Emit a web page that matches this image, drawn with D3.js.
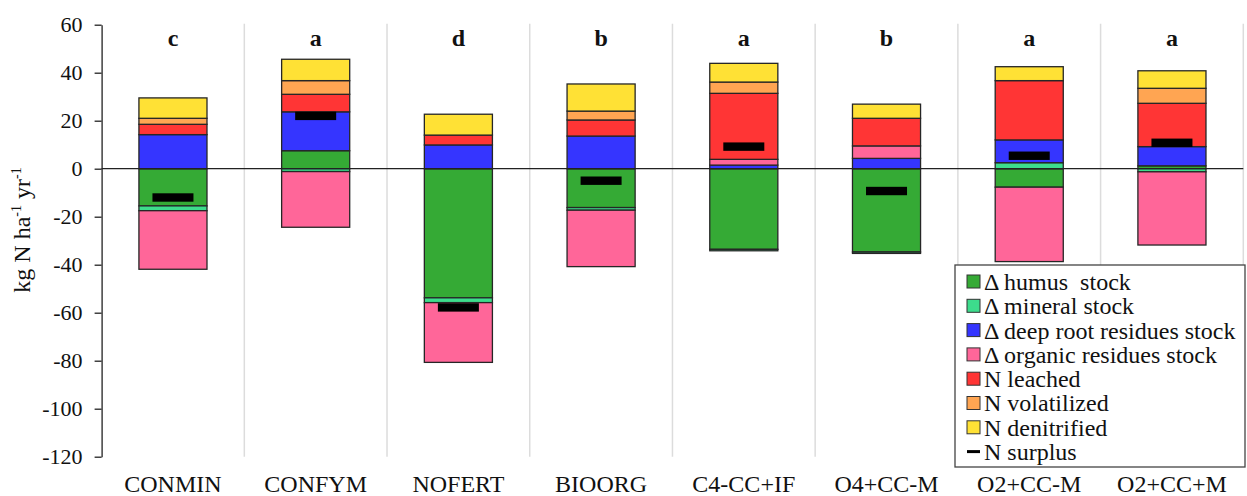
<!DOCTYPE html>
<html>
<head>
<meta charset="utf-8">
<script src="https://cdn.jsdelivr.net/npm/d3@7"></script>
<style>
  html, body { margin: 0; padding: 0; background: #fff; }
  svg { display: block; }
  svg text { font-family: "Liberation Serif", "Times New Roman", "DejaVu Serif", serif !important; }
</style>
</head>
<body>
<svg id="chart" width="1247" height="496"></svg>
<script>
// Nitrogen balance components per cropping system (kg N ha-1 yr-1)
const categories = ["CONMIN", "CONFYM", "NOFERT", "BIOORG", "C4-CC+IF", "O4+CC-M", "O2+CC-M", "O2+CC+M"];
const letters = ["c", "a", "d", "b", "a", "b", "a", "a"];

const humus       = [-15.5,  7.5, -53.8, -16.2, -33.6, -34.7,  -7.7,   1.2];
const mineral     = [ -2.0, -1.2,  -2.0,  -1.1,  -0.6,  -0.6,   2.5,  -1.3];
const deepRoot    = [ 14.2, 16.2,   9.9,  13.6,   1.5,   4.3,   9.5,   8.0];
const organic     = [-24.4, -23.2, -24.9, -23.5,  2.4,   5.2, -31.0, -30.5];
const leached     = [  4.3,  7.3,   4.1,   6.7,  27.5,  11.5,  24.7,  18.05];
const volatilized = [  2.5,  5.7,   0.0,   3.7,   4.7,   0.0,   0.0,   6.25];
const denitrified = [  8.5,  8.9,   8.7,  11.3,   7.8,   5.9,   5.8,   7.3];
const surplus     = [-12.0, 22.0, -57.8,  -5.0,   9.2,  -9.3,   5.4,  10.8];

const yTicks = [60, 40, 20, 0, -20, -40, -60, -80, -100, -120];

const series = [
  { key: "humus",       label: "\u0394 humus  stock",               color: "#35AA35", values: humus },
  { key: "mineral",     label: "\u0394 mineral stock",              color: "#3DDC8C", values: mineral },
  { key: "deepRoot",    label: "\u0394 deep root residues stock",   color: "#3535FF", values: deepRoot },
  { key: "organic",     label: "\u0394 organic residues stock",     color: "#FF6699", values: organic },
  { key: "leached",     label: "N leached",                         color: "#FF3535", values: leached },
  { key: "volatilized", label: "N volatilized",                     color: "#FFA552", values: volatilized },
  { key: "denitrified", label: "N denitrified",                     color: "#FFE135", values: denitrified }
];

// Build row table for the stack layout
const rows = categories.map((c, i) => {
  const r = { category: c };
  series.forEach(s => { r[s.key] = s.values[i]; });
  return r;
});

const SERIF = "Liberation Serif, Times New Roman, DejaVu Serif, serif";
const svg = d3.select("#chart").attr("font-family", SERIF);
const plotLeft = 101.6, plotRight = 1243.3, plotTop = 24.7, plotBottom = 456.7;

const x = d3.scaleBand()
  .domain(categories)
  .range([plotLeft, plotRight])
  .paddingInner(0.523)
  .paddingOuter(0.2615);

const y = d3.scaleLinear().domain([-120, 60]).range([plotBottom, plotTop]);

// Vertical separators between categories
const step = x.step();
const gridX = d3.range(1, categories.length + 1).map(i => plotLeft + i * step);
svg.append("g").selectAll("line").data(gridX).join("line")
  .attr("x1", d => d).attr("x2", d => d)
  .attr("y1", plotTop - 1).attr("y2", plotBottom)
  .attr("stroke", "#dcdcdc").attr("stroke-width", 1.5);

// Y axis
const yAxis = svg.append("g")
  .attr("transform", `translate(${plotLeft},0)`)
  .call(d3.axisLeft(y).tickValues(yTicks).tickSize(7).tickSizeOuter(0).tickPadding(12)
    .tickFormat(d => d));
yAxis.attr("font-family", SERIF).attr("font-size", 22);
yAxis.select(".domain").attr("stroke", "#222").attr("stroke-width", 1.3);
yAxis.selectAll(".tick line").attr("stroke", "#222").attr("stroke-width", 1.3);
yAxis.selectAll(".tick text").attr("fill", "#111");

// Stacked bars (positive values upward, negative values downward)
const stack = d3.stack()
  .keys(series.map(s => s.key))
  .offset(d3.stackOffsetDiverging);
const stacked = stack(rows);

const barG = svg.append("g");
stacked.forEach((layer, li) => {
  barG.append("g").attr("fill", series[li].color)
    .selectAll("rect")
    .data(layer.filter(d => d[1] !== d[0]))
    .join("rect")
    .attr("x", d => x(d.data.category))
    .attr("width", x.bandwidth())
    .attr("y", d => y(Math.max(d[0], d[1])))
    .attr("height", d => Math.abs(y(d[0]) - y(d[1])))
    .attr("stroke", "#262626")
    .attr("stroke-width", 1.3);
});

// Zero line
svg.append("line")
  .attr("x1", plotLeft).attr("x2", plotRight)
  .attr("y1", y(0)).attr("y2", y(0))
  .attr("stroke", "#222").attr("stroke-width", 1.3);

// N surplus markers
svg.append("g").selectAll("rect").data(categories).join("rect")
  .attr("x", d => x(d) + x.bandwidth() / 2 - 20.5)
  .attr("width", 41)
  .attr("y", (d, i) => y(surplus[i]) - 4.2)
  .attr("height", 8.4)
  .attr("fill", "#000");

// Significance letters
svg.append("g").selectAll("text").data(categories).join("text")
  .attr("x", d => x(d) + x.bandwidth() / 2)
  .attr("y", 46)
  .attr("text-anchor", "middle")
  .attr("font-weight", "bold")
  .attr("font-size", 24)
  .attr("fill", "#111")
  .text((d, i) => letters[i]);

// Category labels
svg.append("g").selectAll("text").data(categories).join("text")
  .attr("x", d => x(d) + x.bandwidth() / 2)
  .attr("y", 492)
  .attr("text-anchor", "middle")
  .attr("font-size", 24)
  .attr("fill", "#111")
  .text(d => d);

// Y axis title
const yt = svg.append("text")
  .attr("transform", "translate(30,230) rotate(-90)")
  .attr("text-anchor", "middle")
  .attr("font-size", 24)
  .attr("fill", "#111");
yt.append("tspan").text("kg N ha");
yt.append("tspan").attr("font-size", 14).attr("dy", -9).text("-1");
yt.append("tspan").attr("dy", 9).text(" yr");
yt.append("tspan").attr("font-size", 14).attr("dy", -9).text("-1");

// Legend
const lg = svg.append("g");
lg.append("rect")
  .attr("x", 955).attr("y", 265).attr("width", 290).attr("height", 202)
  .attr("fill", "#fff").attr("stroke", "#444").attr("stroke-width", 1.3);
const rowY = i => 281.5 + i * 24.3;
series.forEach((s, i) => {
  lg.append("rect")
    .attr("x", 967).attr("y", rowY(i) - 6.5).attr("width", 13).attr("height", 13)
    .attr("fill", s.color).attr("stroke", "#333").attr("stroke-width", 1);
  lg.append("text")
    .attr("x", 984).attr("y", rowY(i)).attr("dy", "0.35em")
    .attr("font-size", 24).attr("fill", "#111")
    .attr("xml:space", "preserve")
    .text(s.label);
});
lg.append("line")
  .attr("x1", 967).attr("x2", 980)
  .attr("y1", rowY(7)).attr("y2", rowY(7))
  .attr("stroke", "#000").attr("stroke-width", 3);
lg.append("text")
  .attr("x", 984).attr("y", rowY(7)).attr("dy", "0.35em")
  .attr("font-size", 24).attr("fill", "#111")
  .text("N surplus");
</script>
</body>
</html>
